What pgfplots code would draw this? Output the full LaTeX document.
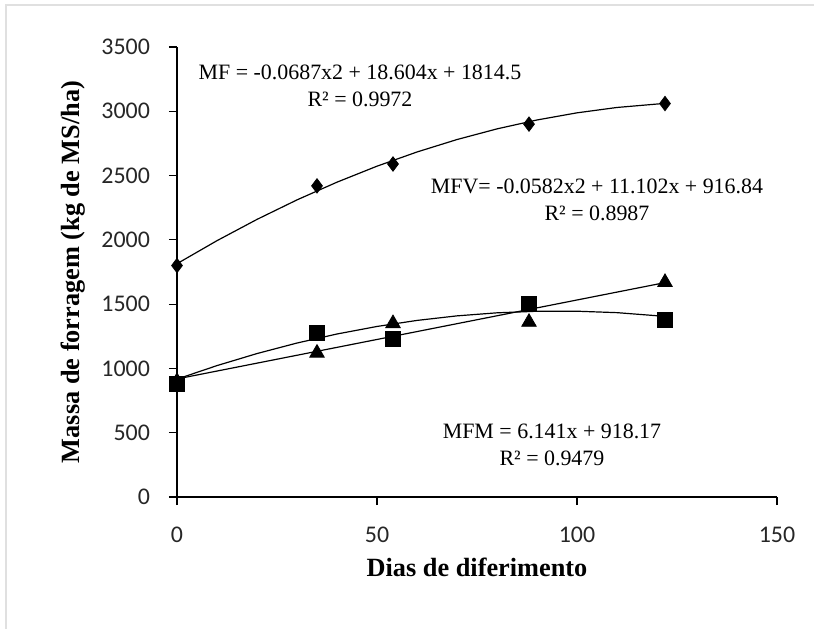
\documentclass[border=0pt]{standalone}
\usepackage{pgfplots}
\pgfplotsset{compat=1.18}
\usepackage{fontspec}
\setmainfont{Liberation Serif}
\newfontfamily\calib{Carlito}
\begin{document}
\begin{tikzpicture}[x=1bp,y=1bp]
\path[use as bounding box] (-88.5bp,-66bp) rectangle (318.5bp,248.5bp);
\draw[black!12, line width=0.8bp] (-85.5bp,-66bp) -- (-85.5bp,246bp) -- (318.5bp,246bp);
\begin{axis}[
  at={(0,0)}, anchor=origin,
  scale only axis, width=300bp, height=225bp,
  xmin=0, xmax=150, ymin=0, ymax=3500,
  axis lines=left, axis line style={-, line width=0.6pt},
  xtick={0,50,100,150}, ytick={0,500,...,3500},
  tick align=outside, major tick length=4bp,
  tick style={black, line width=0.6pt},
  /pgf/number format/assume math mode=true,
  /pgf/number format/1000 sep={},
  ticklabel style={font=\calib\fontsize{12}{14}\selectfont, text=black!85},
  xticklabel style={yshift=-7.5bp},
  yticklabel style={xshift=-6bp},
  xlabel={\bfseries Dias de diferimento},
  ylabel={\bfseries Massa de forragem (kg de MS/ha)},
  label style={font=\fontsize{13.2}{15}\selectfont},
  xlabel style={at={(axis description cs:0.5,-0.1556)}, anchor=center},
  ylabel style={at={(axis description cs:-0.173,0.5)}, anchor=center},
  clip=false,
]
% trend lines
\addplot[black, line width=0.6pt, no marks] coordinates {
(0,1814.5) (10,1993.7) (20,2159.1) (30,2310.8) (40,2448.7) (50,2573.0) (60,2683.4) (70,2780.2) (80,2863.1) (90,2932.4) (100,2987.9) (110,3029.7) (122,3061.7)};
\addplot[black, line width=0.6pt, no marks] coordinates {
(0,916.8) (10,1022.0) (20,1115.6) (30,1197.5) (40,1267.8) (50,1326.4) (60,1373.4) (70,1408.8) (80,1432.5) (90,1444.6) (100,1445.0) (110,1433.8) (122,1404.9)};
\addplot[black, line width=0.6pt, no marks] coordinates {(0,918.2) (122,1667.4)};
% data
\addplot[only marks, mark=diamond*, mark size=3.6pt, black] coordinates {
(0,1800) (35,2420) (54,2590) (88,2900) (122,3060)};
\addplot[only marks, mark=square*, mark size=3.7pt, black] coordinates {
(0,880) (35,1275) (54,1230) (88,1500) (122,1380)};
\addplot[only marks, mark=triangle*, mark size=4.2pt, black] coordinates {
(0,900) (35,1120) (54,1350) (88,1360) (122,1670)};
% equations
\node[align=center, font=\fontsize{11}{13.5}\selectfont] at (axis cs:45.75,3197) {MF = -0.0687x2 + 18.604x + 1814.5\\R² = 0.9972};
\node[align=center, font=\fontsize{11}{13.5}\selectfont] at (axis cs:105,2310) {MFV= -0.0582x2 + 11.102x + 916.84\\R² = 0.8987};
\node[align=center, font=\fontsize{11}{13.5}\selectfont] at (axis cs:93.75,404) {MFM = 6.141x + 918.17\\R² = 0.9479};
\end{axis}
\end{tikzpicture}
\end{document}
